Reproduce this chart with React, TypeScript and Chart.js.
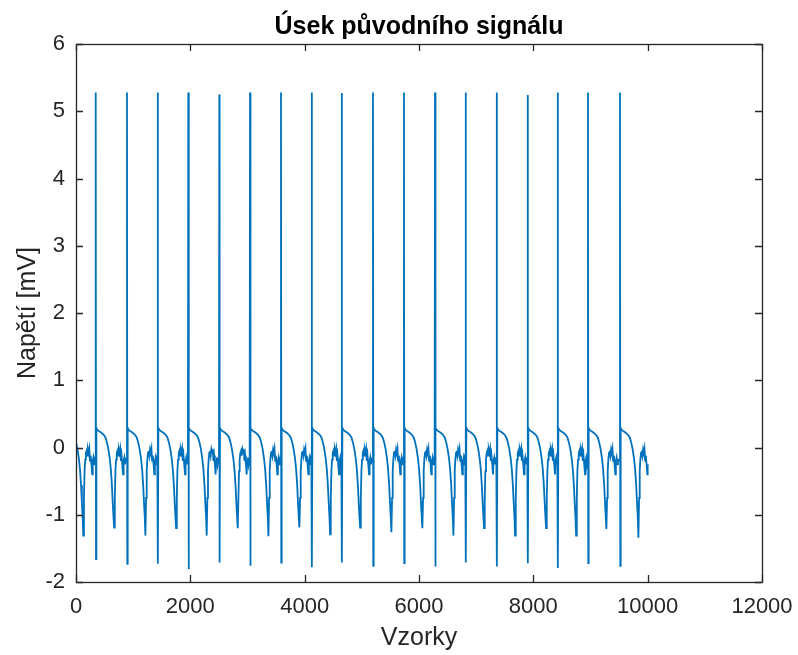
import React, { useEffect, useRef } from "react";
import { Chart, registerables } from "chart.js";

Chart.register(...registerables);

// ---- Data ----
const TITLE = "Úsek původního signálu";
const X_LABEL = "Vzorky";
const Y_LABEL = "Napětí [mV]";

const X_TICKS = [0, 2000, 4000, 6000, 8000, 10000, 12000];
const Y_TICKS = [-2, -1, 0, 1, 2, 3, 4, 5, 6];

const SIGNAL_LENGTH = 10000;
const START_VALUE = 0.08;
const END_VALUE = -0.25;
const FIRST_PARTIAL_BEAT_START = -195; // spike before sample 0 (off-screen)

// sample index of each R spike
const SPIKE_SAMPLES = [345, 892, 1429, 1964, 2507, 3044, 3586, 4123, 4648, 5195, 5737, 6280, 6816, 7359, 7901, 8426, 8956, 9516];
// spike maximum [mV]
const SPIKE_PEAKS = [5.28, 5.28, 5.28, 5.28, 5.25, 5.28, 5.28, 5.28, 5.27, 5.28, 5.28, 5.28, 5.28, 5.28, 5.24, 5.28, 5.28, 5.28];
// spike minimum [mV]
const SPIKE_TROUGHS = [-1.66, -1.73, -1.73, -1.81, -1.71, -1.76, -1.71, -1.78, -1.71, -1.76, -1.72, -1.77, -1.71, -1.77, -1.72, -1.79, -1.72, -1.76];
// deep negative wave after each spike (index 0 = partial beat before first spike)
const DIP_MINS = [-1.31, -1.19, -1.31, -1.2, -1.31, -1.2, -1.32, -1.19, -1.29, -1.19, -1.26, -1.2, -1.31, -1.2, -1.31, -1.2, -1.31, -1.21, -1.34];

const PRE_SPIKE_OFFSET = -6;
const PRE_SPIKE_VALUE = -0.2;
const TROUGH_OFFSET = 5;
// beat shape after the spike: offsets (samples) and values (mV); null = DIP_MINS entry
const BEAT_OFFSETS = [12, 30, 60, 100, 140, 170, 195, 220, 245, 265, 283, 298, 312, 322, 334, 345, 356, 368, 380, 392, 404, 416, 428, 440, 452, 465, 478, 488, 500, 512, 524];
const BEAT_VALUES: (number | null)[] = [0.29, 0.26, 0.24, 0.22, 0.19, 0.15, 0.08, -0.02, -0.16, -0.33, -0.56, -0.83, -1.05, null, -0.75, -0.35, -0.18, -0.08, -0.05, -0.12, -0.03, -0.08, -0.02, -0.2, -0.12, -0.25, -0.4, -0.2, -0.15, -0.25, -0.18];

function buildSignal() {
  const pts: { x: number; y: number }[] = [{ x: 0, y: START_VALUE }];
  const starts = [FIRST_PARTIAL_BEAT_START, ...SPIKE_SAMPLES];
  starts.forEach((s, i) => {
    if (i >= 1) {
      pts.push({ x: s + PRE_SPIKE_OFFSET, y: PRE_SPIKE_VALUE });
      pts.push({ x: s, y: SPIKE_PEAKS[i - 1] });
      pts.push({ x: s + TROUGH_OFFSET, y: SPIKE_TROUGHS[i - 1] });
    }
    const next = i < SPIKE_SAMPLES.length ? SPIKE_SAMPLES[i] + PRE_SPIKE_OFFSET : SIGNAL_LENGTH;
    BEAT_OFFSETS.forEach((off, k) => {
      const x = s + off;
      if (x <= 0 || x >= next || x >= SIGNAL_LENGTH) return;
      const v = BEAT_VALUES[k];
      pts.push({ x, y: v === null ? DIP_MINS[i] : v });
    });
  });
  pts.push({ x: SIGNAL_LENGTH, y: END_VALUE });
  return pts;
}

const FONT = "'Liberation Sans', Arial, Helvetica, sans-serif";
const AXIS_COLOR = "#262626";

const boxPlugin = {
  id: "matlabBox",
  afterDraw(chart: any) {
    const { ctx, chartArea, scales } = chart;
    const { left, right, top, bottom } = chartArea;
    const tl = 7;
    ctx.save();
    ctx.strokeStyle = AXIS_COLOR;
    ctx.lineWidth = 1.3;
    ctx.beginPath();
    scales.x.ticks.forEach((t: any) => {
      const px = Math.round(scales.x.getPixelForValue(t.value)) + 0.5;
      ctx.moveTo(px, bottom);
      ctx.lineTo(px, bottom - tl);
      ctx.moveTo(px, top);
      ctx.lineTo(px, top + tl);
    });
    scales.y.ticks.forEach((t: any) => {
      const py = Math.round(scales.y.getPixelForValue(t.value)) + 0.5;
      ctx.moveTo(left, py);
      ctx.lineTo(left + tl, py);
      ctx.moveTo(right, py);
      ctx.lineTo(right - tl, py);
    });
    ctx.stroke();
    ctx.strokeRect(Math.round(left) + 0.5, Math.round(top) + 0.5, Math.round(right - left), Math.round(bottom - top));
    ctx.restore();
  },
};

export default function App() {
  const ref = useRef<HTMLCanvasElement>(null);
  useEffect(() => {
    if (!ref.current) return;
    const chart = new Chart(ref.current, {
      type: "line",
      data: {
        datasets: [
          {
            data: buildSignal(),
            borderColor: "#0072BD",
            borderWidth: 1.8,
            pointRadius: 0,
            tension: 0,
            fill: false,
          },
        ],
      },
      options: {
        animation: false,
        responsive: false,
        devicePixelRatio: 1,
        layout: { padding: { top: 0, right: 36, left: 0, bottom: 0 } },
        plugins: {
          legend: { display: false },
          tooltip: { enabled: false },
          title: {
            display: true,
            text: TITLE,
            fullSize: false,
            color: "#000",
            font: { family: FONT, size: 25, weight: "bold", lineHeight: 1.2 },
            padding: { top: 12, bottom: 2 },
          },
        },
        scales: {
          x: {
            type: "linear",
            min: 0,
            max: 12000,
            afterBuildTicks: (s: any) => {
              s.ticks = X_TICKS.map((v) => ({ value: v }));
            },
            afterFit: (s: any) => {
              s.height = 73;
              s.paddingLeft = 0;
              s.paddingRight = 0;
            },
            grid: { display: false, drawTicks: false },
            border: { display: false },
            ticks: {
              color: AXIS_COLOR,
              font: { family: FONT, size: 22 },
              padding: 12,
              maxRotation: 0,
              autoSkip: false,
              callback: (v: any) => String(v),
            },
            title: {
              display: true,
              text: X_LABEL,
              color: AXIS_COLOR,
              font: { family: FONT, size: 25, lineHeight: 1.2 },
              padding: { top: 0, bottom: 2 },
            },
          },
          y: {
            type: "linear",
            min: -2,
            max: 6,
            afterBuildTicks: (s: any) => {
              s.ticks = Y_TICKS.map((v) => ({ value: v }));
            },
            afterFit: (s: any) => {
              s.width = 76;
              s.paddingTop = 0;
              s.paddingBottom = 0;
            },
            grid: { display: false, drawTicks: false },
            border: { display: false },
            ticks: {
              color: AXIS_COLOR,
              font: { family: FONT, size: 22 },
              padding: 11,
              autoSkip: false,
              callback: (v: any) => String(v),
            },
            title: {
              display: true,
              text: Y_LABEL,
              color: AXIS_COLOR,
              font: { family: FONT, size: 25, lineHeight: 1.2 },
              padding: { top: 13, bottom: 0 },
            },
          },
        },
      },
      plugins: [boxPlugin],
    });
    return () => chart.destroy();
  }, []);
  return (
    <div style={{ position: "absolute", left: 0, top: 0, width: 798, height: 655, background: "#fff" }}>
      <canvas ref={ref} width={798} height={655} />
    </div>
  );
}
